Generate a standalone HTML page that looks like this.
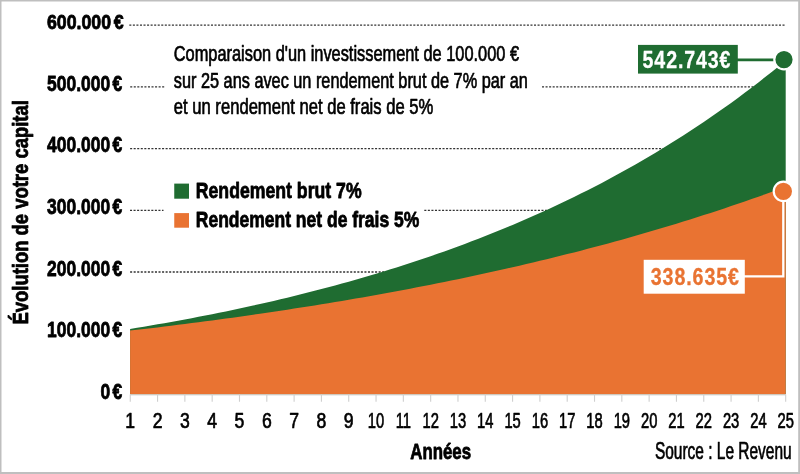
<!DOCTYPE html>
<html lang="fr"><head><meta charset="utf-8"><title>Évolution de votre capital</title>
<style>
html,body{margin:0;padding:0;background:#fff;}
body{width:800px;height:474px;overflow:hidden;}
svg{display:block;}
text{font-family:"Liberation Sans","DejaVu Sans",sans-serif;fill:#000;stroke:#000;stroke-width:0.7;stroke-linejoin:round;}
.b{font-weight:bold;stroke-width:0.8;}
</style></head><body>
<svg width="800" height="474" viewBox="0 0 800 474">
<rect x="0" y="0" width="800" height="474" fill="#fff"/>

<path d="M129.3 25.2 H786.0" stroke="#333" stroke-width="1.3" stroke-dasharray="2.05 1.5" fill="none"/>
<path d="M130.2 86.9 H165.0" stroke="#333" stroke-width="1.3" stroke-dasharray="2.05 1.5" fill="none"/>
<path d="M542.0 86.9 H770.0" stroke="#333" stroke-width="1.3" stroke-dasharray="2.05 1.5" fill="none"/>
<path d="M130.1 148.6 H680.0" stroke="#333" stroke-width="1.3" stroke-dasharray="2.05 1.5" fill="none"/>
<path d="M130.0 210.3 H163.5" stroke="#333" stroke-width="1.3" stroke-dasharray="2.05 1.5" fill="none"/>
<path d="M424.3 210.3 H560.0" stroke="#333" stroke-width="1.3" stroke-dasharray="2.05 1.5" fill="none"/>
<path d="M130.1 272.0 H400.0" stroke="#333" stroke-width="1.3" stroke-dasharray="2.05 1.5" fill="none"/>
<path d="M130.1 394.30 L130.10 328.99 L137.08 327.86 L143.91 326.72 L150.73 325.56 L157.56 324.37 L164.39 323.17 L171.22 321.95 L178.04 320.70 L184.87 319.44 L191.70 318.15 L198.52 316.84 L205.35 315.51 L212.18 314.15 L219.01 312.78 L225.83 311.38 L232.66 309.95 L239.49 308.50 L246.32 307.03 L253.14 305.53 L259.97 304.01 L266.80 302.46 L273.63 300.88 L280.45 299.27 L287.28 297.64 L294.11 295.98 L300.94 294.30 L307.76 292.58 L314.59 290.83 L321.42 289.06 L328.25 287.25 L335.07 285.42 L341.90 283.55 L348.73 281.65 L355.56 279.72 L362.38 277.75 L369.21 275.76 L376.04 273.72 L382.87 271.66 L389.69 269.55 L396.52 267.42 L403.35 265.24 L410.18 263.03 L417.00 260.78 L423.83 258.49 L430.66 256.16 L437.49 253.80 L444.31 251.39 L451.14 248.94 L457.97 246.45 L464.80 243.92 L471.62 241.35 L478.45 238.73 L485.28 236.06 L492.11 233.35 L498.94 230.60 L505.76 227.79 L512.59 224.94 L519.42 222.04 L526.25 219.10 L533.07 216.10 L539.90 213.05 L546.73 209.94 L553.56 206.79 L560.38 203.58 L567.21 200.32 L574.04 197.00 L580.87 193.62 L587.69 190.19 L594.52 186.70 L601.35 183.14 L608.17 179.53 L615.00 175.86 L621.83 172.12 L628.66 168.32 L635.48 164.46 L642.31 160.53 L649.14 156.53 L655.97 152.46 L662.79 148.33 L669.62 144.12 L676.45 139.84 L683.28 135.49 L690.11 131.07 L696.93 126.56 L703.76 121.99 L710.59 117.33 L717.41 112.60 L724.24 107.78 L731.07 102.88 L737.90 97.90 L744.73 92.84 L751.55 87.68 L758.38 82.44 L765.21 77.11 L772.03 71.69 L778.86 66.18 L785.69 60.57 L785.70 60.56 L785.70 394.30 Z" fill="#1f6c31"/>
<path d="M130.1 394.30 L130.10 330.62 L137.08 329.83 L143.91 329.02 L150.73 328.21 L157.56 327.39 L164.39 326.55 L171.22 325.71 L178.04 324.85 L184.87 323.99 L191.70 323.12 L198.52 322.23 L205.35 321.33 L212.18 320.42 L219.01 319.51 L225.83 318.58 L232.66 317.63 L239.49 316.68 L246.32 315.72 L253.14 314.74 L259.97 313.75 L266.80 312.75 L273.63 311.74 L280.45 310.71 L287.28 309.67 L294.11 308.62 L300.94 307.56 L307.76 306.48 L314.59 305.39 L321.42 304.29 L328.25 303.17 L335.07 302.04 L341.90 300.90 L348.73 299.74 L355.56 298.57 L362.38 297.38 L369.21 296.18 L376.04 294.96 L382.87 293.73 L389.69 292.48 L396.52 291.22 L403.35 289.94 L410.18 288.65 L417.00 287.34 L423.83 286.02 L430.66 284.68 L437.49 283.32 L444.31 281.94 L451.14 280.55 L457.97 279.14 L464.80 277.72 L471.62 276.28 L478.45 274.81 L485.28 273.34 L492.11 271.84 L498.94 270.32 L505.76 268.79 L512.59 267.24 L519.42 265.67 L526.25 264.08 L533.07 262.47 L539.90 260.83 L546.73 259.18 L553.56 257.51 L560.38 255.82 L567.21 254.11 L574.04 252.38 L580.87 250.63 L587.69 248.85 L594.52 247.05 L601.35 245.23 L608.17 243.39 L615.00 241.53 L621.83 239.64 L628.66 237.73 L635.48 235.80 L642.31 233.84 L649.14 231.86 L655.97 229.85 L662.79 227.82 L669.62 225.77 L676.45 223.68 L683.28 221.58 L690.11 219.45 L696.93 217.29 L703.76 215.10 L710.59 212.89 L717.41 210.65 L724.24 208.39 L731.07 206.09 L737.90 203.77 L744.73 201.42 L751.55 199.04 L758.38 196.63 L765.21 194.20 L772.03 191.73 L778.86 189.23 L785.69 186.70 L785.70 186.70 L785.70 394.30 Z" fill="#e97332"/>
<path d="M130 394.9 H785.9" stroke="#d0d0d0" stroke-width="1"/>
<path d="M130.25 394.4 V401.8 M157.56 394.4 V401.8 M184.87 394.4 V401.8 M212.18 394.4 V401.8 M239.49 394.4 V401.8 M266.80 394.4 V401.8 M294.11 394.4 V401.8 M321.42 394.4 V401.8 M348.73 394.4 V401.8 M376.04 394.4 V401.8 M403.35 394.4 V401.8 M430.66 394.4 V401.8 M457.97 394.4 V401.8 M485.28 394.4 V401.8 M512.59 394.4 V401.8 M539.90 394.4 V401.8 M567.21 394.4 V401.8 M594.52 394.4 V401.8 M621.83 394.4 V401.8 M649.14 394.4 V401.8 M676.45 394.4 V401.8 M703.76 394.4 V401.8 M731.07 394.4 V401.8 M758.38 394.4 V401.8 M785.69 394.4 V401.8 " stroke="#cfcfcf" stroke-width="1.1" fill="none"/>
<text transform="translate(130.25 427.50) scale(0.8000 1)" text-anchor="middle" font-size="22">1</text>
<text transform="translate(157.56 427.50) scale(0.8000 1)" text-anchor="middle" font-size="22">2</text>
<text transform="translate(184.87 427.50) scale(0.8000 1)" text-anchor="middle" font-size="22">3</text>
<text transform="translate(212.18 427.50) scale(0.8000 1)" text-anchor="middle" font-size="22">4</text>
<text transform="translate(239.49 427.50) scale(0.8000 1)" text-anchor="middle" font-size="22">5</text>
<text transform="translate(266.80 427.50) scale(0.8000 1)" text-anchor="middle" font-size="22">6</text>
<text transform="translate(294.11 427.50) scale(0.8000 1)" text-anchor="middle" font-size="22">7</text>
<text transform="translate(321.42 427.50) scale(0.8000 1)" text-anchor="middle" font-size="22">8</text>
<text transform="translate(348.73 427.50) scale(0.8000 1)" text-anchor="middle" font-size="22">9</text>
<text transform="translate(376.04 427.50) scale(0.6700 1)" text-anchor="middle" font-size="22">10</text>
<text transform="translate(403.35 427.50) scale(0.6700 1)" text-anchor="middle" font-size="22">11</text>
<text transform="translate(430.66 427.50) scale(0.6700 1)" text-anchor="middle" font-size="22">12</text>
<text transform="translate(457.97 427.50) scale(0.6700 1)" text-anchor="middle" font-size="22">13</text>
<text transform="translate(485.28 427.50) scale(0.6700 1)" text-anchor="middle" font-size="22">14</text>
<text transform="translate(512.59 427.50) scale(0.6700 1)" text-anchor="middle" font-size="22">15</text>
<text transform="translate(539.90 427.50) scale(0.6700 1)" text-anchor="middle" font-size="22">16</text>
<text transform="translate(567.21 427.50) scale(0.6700 1)" text-anchor="middle" font-size="22">17</text>
<text transform="translate(594.52 427.50) scale(0.6700 1)" text-anchor="middle" font-size="22">18</text>
<text transform="translate(621.83 427.50) scale(0.6700 1)" text-anchor="middle" font-size="22">19</text>
<text transform="translate(649.14 427.50) scale(0.6700 1)" text-anchor="middle" font-size="22">20</text>
<text transform="translate(676.45 427.50) scale(0.6700 1)" text-anchor="middle" font-size="22">21</text>
<text transform="translate(703.76 427.50) scale(0.6700 1)" text-anchor="middle" font-size="22">22</text>
<text transform="translate(731.07 427.50) scale(0.6700 1)" text-anchor="middle" font-size="22">23</text>
<text transform="translate(758.38 427.50) scale(0.6700 1)" text-anchor="middle" font-size="22">24</text>
<text transform="translate(785.69 427.50) scale(0.6700 1)" text-anchor="middle" font-size="22">25</text>
<text class="b" transform="translate(123.50 28.60) scale(0.8540 1)" text-anchor="end" font-size="20.8">600.000<tspan dx="3">€</tspan></text>
<text class="b" transform="translate(122.20 90.60) scale(0.7930 1)" text-anchor="end" font-size="22">500.000<tspan dx="3">€</tspan></text>
<text class="b" transform="translate(122.20 152.30) scale(0.7930 1)" text-anchor="end" font-size="22">400.000<tspan dx="3">€</tspan></text>
<text class="b" transform="translate(122.20 214.00) scale(0.7930 1)" text-anchor="end" font-size="22">300.000<tspan dx="3">€</tspan></text>
<text class="b" transform="translate(122.20 275.70) scale(0.7930 1)" text-anchor="end" font-size="22">200.000<tspan dx="3">€</tspan></text>
<text class="b" transform="translate(122.20 337.40) scale(0.7930 1)" text-anchor="end" font-size="22">100.000<tspan dx="3">€</tspan></text>
<text class="b" transform="translate(122.20 399.10) scale(0.7930 1)" text-anchor="end" font-size="22">0<tspan dx="3">€</tspan></text>
<text class="b" transform="translate(27.50 324.50) rotate(-90) scale(0.8500 1)" text-anchor="start" font-size="21.7">Évolution de votre capital</text>
<text class="b" transform="translate(410.30 458.60) scale(0.7550 1)" text-anchor="start" font-size="22.3">Années</text>
<text transform="translate(791.60 459.40) scale(0.6530 1)" text-anchor="end" font-size="23.7">Source : Le Revenu</text>
<text transform="translate(173.80 60.80) scale(0.7514 1)" text-anchor="start" font-size="21.8">Comparaison d'un investissement de 100.000 €</text>
<text transform="translate(173.80 87.50) scale(0.7476 1)" text-anchor="start" font-size="21.8">sur 25 ans avec un rendement brut de 7% par an</text>
<text transform="translate(173.80 114.40) scale(0.7626 1)" text-anchor="start" font-size="21.8">et un rendement net de frais de 5%</text>
<rect x="174.25" y="183.6" width="14.75" height="15.1" fill="#1f6c31"/>
<rect x="174.25" y="213.1" width="14.75" height="14.6" fill="#e97332"/>
<text class="b" transform="translate(195.80 198.00) scale(0.7920 1)" text-anchor="start" font-size="22.3">Rendement brut 7%</text>
<text class="b" transform="translate(195.80 227.30) scale(0.7845 1)" text-anchor="start" font-size="22.3">Rendement net de frais 5%</text>
<rect x="638" y="44.9" width="99.8" height="28.7" fill="#1f6c31"/>
<path d="M737 59.9 H774.1" stroke="#1f6c31" stroke-width="2.7"/>
<circle cx="784" cy="59.6" r="9.7" fill="#1f6c31" stroke="#fff" stroke-width="2.2"/>
<text class="b" transform="translate(642.60 67.70) scale(0.8000 1)" text-anchor="start" font-size="24.5" letter-spacing="1.1" style="fill:#fff;stroke:#fff;stroke-width:0.3">542.743€</text>
<rect x="643.7" y="259.8" width="101.1" height="33.9" fill="#fff"/>
<path d="M744 276.4 H783.3 V198" stroke="#fff" stroke-width="2.3" fill="none"/>
<circle cx="783.4" cy="191.3" r="9.7" fill="#e97332" stroke="#fff" stroke-width="2.2"/>
<text class="b" transform="translate(650.70 285.30) scale(0.8200 1)" text-anchor="start" font-size="24" letter-spacing="1.1" style="fill:#e97332;stroke:#e97332;stroke-width:0.3">338.635€</text>
<path d="M0 0 H800 V474 H0 Z M1.5 1.4 V471.9 H798.2 V1.4 Z" fill="#bfbfbf" fill-rule="evenodd"/>
</svg></body></html>
